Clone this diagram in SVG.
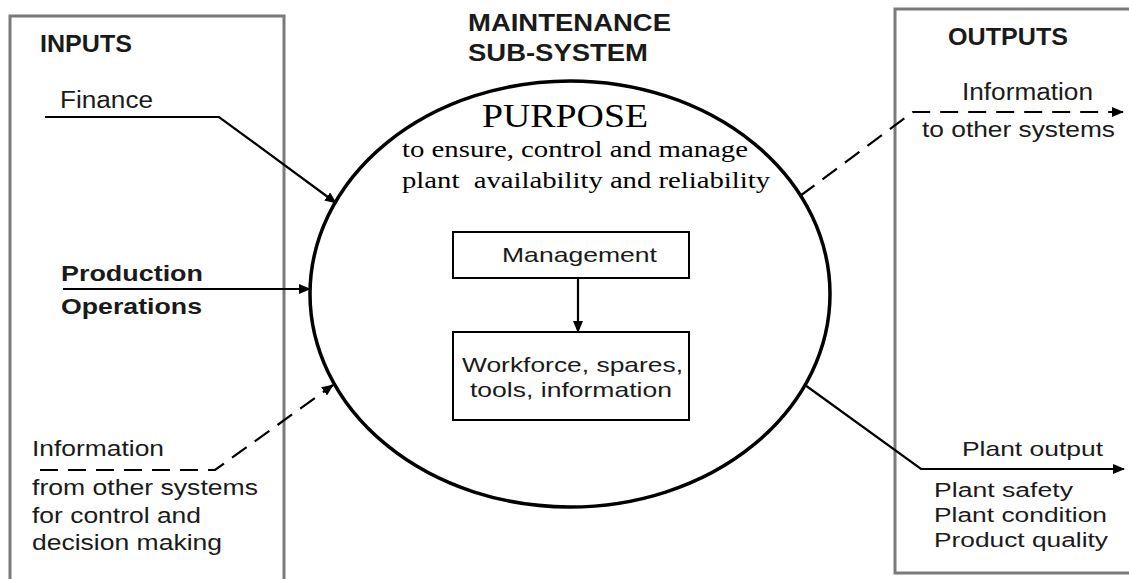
<svg xmlns="http://www.w3.org/2000/svg" width="1129" height="579" viewBox="0 0 1129 579">
<style>
.frame{fill:none;stroke:#7a7a7a;stroke-width:3}
.ell{fill:none;stroke:#000;stroke-width:3.5}
.box{fill:#fff;stroke:#000;stroke-width:2}
.ln{fill:none;stroke:#000;stroke-width:2.2}
.dash{stroke-dasharray:18 10}
.sans{font-family:"Liberation Sans",Arial,sans-serif;fill:#1a1a1a}
.b{font-weight:bold}
.serif{font-family:"Liberation Serif","Times New Roman",serif;fill:#000}
</style>
<defs>
<marker id="ah" viewBox="0 0 12 10" refX="11" refY="5" markerWidth="12" markerHeight="10" markerUnits="userSpaceOnUse" orient="auto">
<path d="M0,0 L12,5 L0,10 z" fill="#000"/>
</marker>
</defs>
<rect width="1129" height="579" fill="#fff"/>

<g id="inputs">
<rect class="frame" x="10" y="16" width="274" height="600"/>
<text class="sans b" x="40" y="52" font-size="23" textLength="92" lengthAdjust="spacingAndGlyphs">INPUTS</text>
<text class="sans" x="60" y="108" font-size="23" textLength="93" lengthAdjust="spacingAndGlyphs">Finance</text>
<text class="sans b" x="61" y="281" font-size="22" textLength="142" lengthAdjust="spacingAndGlyphs">Production</text>
<text class="sans b" x="61" y="314" font-size="22" textLength="141" lengthAdjust="spacingAndGlyphs">Operations</text>
<text class="sans" x="32" y="456" font-size="22" textLength="132" lengthAdjust="spacingAndGlyphs">Information</text>
<text class="sans" x="32" y="495" font-size="22" textLength="226" lengthAdjust="spacingAndGlyphs">from other systems</text>
<text class="sans" x="32" y="523" font-size="22" textLength="169" lengthAdjust="spacingAndGlyphs">for control and</text>
<text class="sans" x="32" y="550" font-size="22" textLength="190" lengthAdjust="spacingAndGlyphs">decision making</text>
</g>

<g id="outputs">
<rect class="frame" x="895" y="9" width="260" height="564"/>
<text class="sans b" x="948" y="45" font-size="23" textLength="120" lengthAdjust="spacingAndGlyphs">OUTPUTS</text>
<text class="sans" x="962" y="100" font-size="23" textLength="131" lengthAdjust="spacingAndGlyphs">Information</text>
<text class="sans" x="922" y="137" font-size="22" textLength="193" lengthAdjust="spacingAndGlyphs">to other systems</text>
<text class="sans" x="962" y="456" font-size="21" textLength="141" lengthAdjust="spacingAndGlyphs">Plant output</text>
<text class="sans" x="934" y="497" font-size="20" textLength="139" lengthAdjust="spacingAndGlyphs">Plant safety</text>
<text class="sans" x="934" y="522" font-size="20" textLength="173" lengthAdjust="spacingAndGlyphs">Plant condition</text>
<text class="sans" x="934" y="547" font-size="20" textLength="174" lengthAdjust="spacingAndGlyphs">Product quality</text>
</g>

<g id="title">
<text class="sans b" x="468" y="31" font-size="23" textLength="203" lengthAdjust="spacingAndGlyphs">MAINTENANCE</text>
<text class="sans b" x="468" y="61" font-size="23" textLength="180" lengthAdjust="spacingAndGlyphs">SUB-SYSTEM</text>
</g>

<g id="subsystem">
<ellipse class="ell" cx="570" cy="294" rx="260" ry="213"/>
<text class="serif" x="482" y="127" font-size="33" textLength="166" lengthAdjust="spacingAndGlyphs">PURPOSE</text>
<text class="serif" x="402" y="157" font-size="24" textLength="346" lengthAdjust="spacingAndGlyphs">to ensure, control and manage</text>
<text class="serif" x="402" y="188" font-size="24" textLength="368" lengthAdjust="spacingAndGlyphs" xml:space="preserve">plant  availability and reliability</text>
</g>

<g id="management">
<rect class="box" x="453" y="232" width="236" height="46"/>
<text class="sans" x="502" y="262" font-size="21" textLength="155" lengthAdjust="spacingAndGlyphs">Management</text>
</g>

<g id="resources">
<rect class="box" x="453" y="332" width="236" height="88"/>
<text class="sans" x="462" y="372" font-size="21" textLength="221" lengthAdjust="spacingAndGlyphs">Workforce, spares,</text>
<text class="sans" x="470" y="397" font-size="21" textLength="202" lengthAdjust="spacingAndGlyphs">tools, information</text>
</g>

<g id="connectors">
<polyline class="ln" points="45,117 219,117 336,203" marker-end="url(#ah)"/>
<line class="ln" x1="63" y1="289" x2="310" y2="289" marker-end="url(#ah)"/>
<polyline class="ln dash" points="40,470 215,470 333,385" marker-end="url(#ah)"/>
<line class="ln" x1="578" y1="278" x2="578" y2="332" marker-end="url(#ah)"/>
<polyline class="ln dash" points="800,196 913,112 1123,112" marker-end="url(#ah)"/>
<polyline class="ln" points="805,385 921,469 1124,469" marker-end="url(#ah)"/>
</g>
</svg>
